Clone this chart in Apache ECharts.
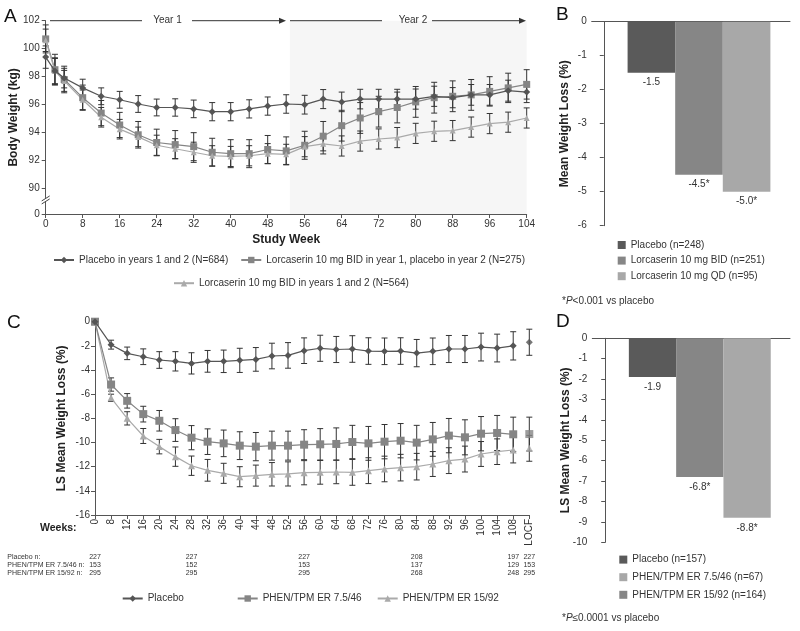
<!DOCTYPE html>
<html><head><meta charset="utf-8">
<script src="https://cdn.jsdelivr.net/npm/echarts@6/dist/echarts.min.js"></script>
<style>html,body{margin:0;padding:0;background:#fff}#c{width:800px;height:631px}</style>
</head><body><div id="c"></div>
<script>
// ---------- Panel A data ----------
const weeksA = [0,2,4,8,12,16,20,24,28,32,36,40,44,48,52,56,60,64,68,72,76,80,84,88,92,96,100,104];
const placeboA = [99.4,98.4,97.9,97.2,96.6,96.35,96.05,95.8,95.8,95.7,95.5,95.5,95.7,95.9,96.05,96.0,96.4,96.2,96.4,96.4,96.4,96.4,96.6,96.5,96.7,96.7,97.0,96.9];
const placeboAErr = [0.8,0.95,0.7,0.62,0.6,0.6,0.6,0.6,0.62,0.63,0.65,0.65,0.65,0.65,0.66,0.67,0.68,0.7,0.7,0.7,0.7,0.72,0.72,0.72,0.74,0.74,0.75,0.75];
const lorcY1A = [100.7,98.5,97.8,96.5,95.4,94.55,93.85,93.3,93.15,93.0,92.6,92.5,92.5,92.8,92.7,93.1,93.75,94.5,95.05,95.5,95.8,96.2,96.5,96.6,96.7,96.95,97.2,97.45];
const lorcY1AErr = [1.0,1.1,0.95,0.9,0.9,0.9,0.95,0.95,1.0,1.0,1.0,1.0,1.0,1.0,1.0,1.0,1.05,1.1,1.1,1.1,1.1,1.1,1.1,1.1,1.1,1.05,1.05,1.05];
const lorcBothA = [100.6,98.4,97.7,96.35,95.1,94.25,93.7,93.1,92.85,92.6,92.35,92.3,92.35,92.5,92.45,93.0,93.2,93.05,93.4,93.55,93.65,93.95,94.1,94.15,94.4,94.65,94.75,95.05];
const lorcBothAErr = [0.8,0.9,0.75,0.7,0.7,0.7,0.7,0.72,0.72,0.72,0.72,0.72,0.72,0.72,0.72,0.72,0.72,0.72,0.72,0.72,0.72,0.72,0.72,0.72,0.72,0.72,0.72,0.72];
const namesA = ['Placebo in years 1 and 2 (N=684)','Lorcaserin 10 mg BID in year 1, placebo in year 2 (N=275)','Lorcaserin 10 mg BID in years 1 and 2 (N=564)'];
const yBreakA = 88.19;
const yTickValsA = [yBreakA,90,92,94,96,98,100,102];
const yTickLabelsA = ['0','90','92','94','96','98','100','102'];
const year2StartA = 52.8;

// ---------- Panel B data ----------
const catsB = ['Placebo (n=248)','Lorcaserin 10 mg BID (n=251)','Lorcaserin 10 mg QD (n=95)'];
const valsB = [-1.5,-4.5,-5.0];
const labelsB = ['-1.5','-4.5*','-5.0*'];

// ---------- Panel C data ----------
const weeksC = ['0','8','12','16','20','24','28','32','36','40','44','48','52','56','60','64','68','72','76','80','84','88','92','96','100','104','108','LOCF'];
const placeboC = [0,-1.9,-2.62,-2.9,-3.17,-3.28,-3.45,-3.28,-3.28,-3.2,-3.12,-2.84,-2.79,-2.4,-2.2,-2.3,-2.26,-2.43,-2.45,-2.43,-2.6,-2.45,-2.26,-2.26,-2.1,-2.18,-2.0,-1.7];
const placeboCErr = [0,0.37,0.52,0.65,0.69,0.8,0.88,0.9,0.93,1.0,0.98,1.06,1.06,1.06,1.08,1.08,1.1,1.1,1.1,1.1,1.13,1.1,1.12,1.12,1.15,1.15,1.17,1.08];
const phen75C = [0,-5.2,-6.55,-7.65,-8.2,-8.97,-9.6,-9.93,-10.07,-10.26,-10.34,-10.26,-10.26,-10.18,-10.15,-10.12,-9.96,-10.07,-9.93,-9.85,-10.01,-9.74,-9.43,-9.57,-9.27,-9.21,-9.32,-9.3];
const phen75CErr = [0,0.55,0.6,0.65,0.85,0.94,1.0,1.06,1.1,1.15,1.17,1.2,1.2,1.24,1.3,1.33,1.38,1.4,1.42,1.42,1.43,1.4,1.42,1.45,1.42,1.45,1.42,1.4];
const phen15C = [0,-6.3,-8.0,-9.46,-10.34,-11.17,-11.92,-12.3,-12.55,-12.83,-12.74,-12.63,-12.6,-12.5,-12.47,-12.44,-12.47,-12.33,-12.19,-12.08,-12.0,-11.78,-11.5,-11.37,-10.95,-10.76,-10.62,-10.48];
const phen15CErr = [0,0.3,0.55,0.62,0.6,0.8,0.8,0.9,0.83,0.83,0.87,0.97,1.0,1.0,0.98,0.97,1.07,1.07,1.06,1.1,1.1,1.03,1.07,1.07,1.03,1.06,1.07,1.07];
const namesC = ['Placebo','PHEN/TPM ER 7.5/46','PHEN/TPM ER 15/92'];
const nWeeksC = ['0','28','56','84','108','LOCF'];
const nPlaceboC = [227,227,227,208,197,227];
const nPhen75C = [153,152,153,137,129,153];
const nPhen15C = [295,295,295,268,248,295];
const nRowLabelsC = ['Placebo n:','PHEN/TPM ER 7.5/46 n:','PHEN/TPM ER 15/92 n:'];

// ---------- Panel D data ----------
const catsD = ['Placebo (n=157)','PHEN/TPM ER 7.5/46 (n=67)','PHEN/TPM ER 15/92 (n=164)'];
const valsD = [-1.9,-6.8,-8.8];
const labelsD = ['-1.9','-6.8*','-8.8*'];

// ---------- styles ----------
const FONT = '"Liberation Sans", Arial, Helvetica, sans-serif';
const TXT = '#333';
const AXC = '#555';
const ERRC = '#333';
const cDark = '#555555', cMid = '#858585', cLight = '#aaaaaa';
const barDark = '#5a5a5a', barMid = '#868686', barLight = '#a8a8a8';

const chart = echarts.init(document.getElementById('c'));

function errRender(params, api) {
  const x = api.value(0), y = api.value(1), e = api.value(2);
  if (!e) return null;
  const lo = api.coord([x, y - e]), hi = api.coord([x, y + e]);
  const w = 3, st = {stroke: ERRC, lineWidth: 1};
  return {type: 'group', children: [
    {type: 'line', shape: {x1: lo[0], y1: lo[1], x2: hi[0], y2: hi[1]}, style: st},
    {type: 'line', shape: {x1: lo[0]-w, y1: lo[1], x2: lo[0]+w, y2: lo[1]}, style: st},
    {type: 'line', shape: {x1: hi[0]-w, y1: hi[1], x2: hi[0]+w, y2: hi[1]}, style: st}
  ]};
}
function errSeries(xi, yi, xs, ys, es) {
  return {type: 'custom', xAxisIndex: xi, yAxisIndex: yi, silent: true, z: 2,
    data: xs.map((x, i) => [x, ys[i], es[i]]), renderItem: errRender};
}
function lineSeries(name, xi, yi, data, color, symbol, size, extra) {
  return Object.assign({type: 'line', name, xAxisIndex: xi, yAxisIndex: yi, data,
    symbol, symbolSize: size, lineStyle: {color, width: 1.2}, itemStyle: {color},
    z: 3, silent: true}, extra || {});
}
const axisLineSt = {show: true, lineStyle: {color: AXC, width: 1}};
const tickSt = {show: true, length: 4, lineStyle: {color: AXC}};
const lblSt = {color: TXT, fontFamily: FONT, fontSize: 10};
const nameSt = {color: '#222', fontFamily: FONT, fontSize: 12, fontWeight: 'bold'};

const series = [];
// Panel A
series.push(errSeries(0, 0, weeksA, placeboA, placeboAErr));
series.push(errSeries(0, 0, weeksA, lorcY1A, lorcY1AErr));
series.push(errSeries(0, 0, weeksA, lorcBothA, lorcBothAErr));
series.push(lineSeries(namesA[0], 0, 0, weeksA.map((w,i)=>[w, placeboA[i]]), cDark, 'diamond', 7, {
  markArea: {silent: true, itemStyle: {color: '#f6f6f6'}, data: [[{xAxis: year2StartA}, {xAxis: weeksA[weeksA.length-1]}]]}, z: 4}));
series.push(lineSeries(namesA[1], 0, 0, weeksA.map((w,i)=>[w, lorcY1A[i]]), cMid, 'rect', 7));
series.push(lineSeries(namesA[2], 0, 0, weeksA.map((w,i)=>[w, lorcBothA[i]]), cLight, 'triangle', 6));
// Panel B
const colB = [barDark, barMid, barLight];
catsB.forEach((name, i) => series.push({type: 'bar', name, xAxisIndex: 1, yAxisIndex: 1,
  data: [[i + 1, valsB[i]]], barWidth: 47.6, barGap: '-100%', itemStyle: {color: colB[i]}, silent: true,
  label: {show: true, position: 'bottom', distance: 5, formatter: labelsB[i], color: TXT, fontFamily: FONT, fontSize: 10}}));
// Panel C
const nLine = weeksC.length - 1;
const idxC = weeksC.map((w, i) => i);
series.push(errSeries(2, 2, idxC, placeboC, placeboCErr));
series.push(errSeries(2, 2, idxC, phen75C, phen75CErr));
series.push(errSeries(2, 2, idxC, phen15C, phen15CErr));
const cSpec = [[placeboC, cDark, 'diamond', 7], [phen75C, cMid, 'rect', 8], [phen15C, cLight, 'triangle', 7]];
cSpec.forEach((s, k) => {
  series.push(lineSeries(namesC[k], 2, 2, s[0].slice(0, nLine), s[1], s[2], s[3], {z: 4 - k * 0.1}));
  series.push({type: 'scatter', name: namesC[k] + ' LOCF', xAxisIndex: 2, yAxisIndex: 2, silent: true,
    data: [[nLine, s[0][nLine]]], symbol: s[2], symbolSize: s[3], itemStyle: {color: s[1]}, z: 4});
});
// Panel D
const colD = [barDark, barMid, barLight];
catsD.forEach((name, i) => series.push({type: 'bar', name, xAxisIndex: 6, yAxisIndex: 3,
  data: [[i + 1, valsD[i]]], barWidth: 47.3, barGap: '-100%', itemStyle: {color: colD[i]}, silent: true,
  label: {show: true, position: 'bottom', distance: 5, formatter: labelsD[i], color: TXT, fontFamily: FONT, fontSize: 10}}));

function nAxis(vals, offset) {
  return {gridIndex: 2, type: 'category', data: weeksC, boundaryGap: false, position: 'bottom', offset,
    axisLine: {show: false, onZero: false}, axisTick: {show: false}, splitLine: {show: false},
    axisLabel: {interval: 0, margin: 0, color: TXT, fontFamily: FONT, fontSize: 7, lineHeight: 8,
      formatter: (v) => { const k = nWeeksC.indexOf(v); return k >= 0 ? String(vals[k]) : ''; }}};
}

const legText = {color: TXT, fontFamily: FONT, fontSize: 10};
const legBase = {selectedMode: false, padding: 0, textStyle: legText, itemWidth: 20, itemHeight: 8};

const option = {
  animation: false,
  backgroundColor: '#fff',
  textStyle: {fontFamily: FONT},
  grid: [
    {left: 45.7, top: 20.7, width: 481, height: 193.3, outerBoundsMode: 'none', containLabel: false},
    {left: 591.7, top: 21.7, width: 198.3, height: 204, outerBoundsMode: 'none', containLabel: false},
    {left: 95, top: 321.7, width: 434.3, height: 193.3, outerBoundsMode: 'none', containLabel: false},
    {left: 592.3, top: 338.3, width: 197.7, height: 204, outerBoundsMode: 'none', containLabel: false}
  ],
  xAxis: [
    {gridIndex: 0, type: 'value', min: 0, max: 104, interval: 8, axisLine: Object.assign({onZero: false}, axisLineSt),
      axisTick: tickSt, splitLine: {show: false}, axisLabel: Object.assign({margin: 5}, lblSt),
      name: 'Study Week', nameLocation: 'middle', nameGap: 20, nameMoveOverlap: false, nameTextStyle: nameSt},
    {gridIndex: 1, type: 'value', min: -0.254, max: 3.912, position: 'top', axisLine: axisLineSt,
      axisTick: {show: false}, axisLabel: {show: false}, splitLine: {show: false}},
    {gridIndex: 2, type: 'category', data: weeksC, boundaryGap: false, axisLine: Object.assign({onZero: false}, axisLineSt),
      axisTick: Object.assign({interval: 0}, tickSt), splitLine: {show: false},
      axisLabel: Object.assign({interval: 0, rotate: 90, margin: 4}, lblSt)},
    nAxis(nPlaceboC, 38.5),
    nAxis(nPhen75C, 46.5),
    nAxis(nPhen15C, 54.5),
    {gridIndex: 3, type: 'value', min: -0.273, max: 3.907, position: 'top', axisLine: axisLineSt,
      axisTick: {show: false}, axisLabel: {show: false}, splitLine: {show: false}}
  ],
  yAxis: [
    {gridIndex: 0, type: 'value', min: yBreakA, max: 102, axisLine: axisLineSt,
      axisTick: Object.assign({customValues: yTickValsA}, tickSt), splitLine: {show: false},
      axisLabel: Object.assign({customValues: yTickValsA, margin: 6,
        formatter: (v) => { const k = yTickValsA.findIndex(t => Math.abs(t - v) < 1e-6); return k >= 0 ? yTickLabelsA[k] : ''; }}, lblSt),
      name: 'Body Weight (kg)', nameLocation: 'middle', nameGap: 26, nameMoveOverlap: false, nameTextStyle: nameSt},
    {gridIndex: 1, type: 'value', min: -6, max: 0, interval: 1, axisLine: axisLineSt, axisTick: tickSt,
      splitLine: {show: false}, axisLabel: Object.assign({margin: 5}, lblSt),
      name: 'Mean Weight Loss (%)', nameLocation: 'middle', nameGap: 21, nameMoveOverlap: false, nameTextStyle: nameSt},
    {gridIndex: 2, type: 'value', min: -16, max: 0, interval: 2, axisLine: axisLineSt, axisTick: tickSt,
      splitLine: {show: false}, axisLabel: Object.assign({margin: 5}, lblSt),
      name: 'LS Mean Weight Loss (%)', nameLocation: 'middle', nameGap: 27, nameMoveOverlap: false, nameTextStyle: nameSt},
    {gridIndex: 3, type: 'value', min: -10, max: 0, interval: 1, axisLine: axisLineSt, axisTick: tickSt,
      splitLine: {show: false}, axisLabel: Object.assign({margin: 5}, lblSt),
      name: 'LS Mean Weight Loss (%)', nameLocation: 'middle', nameGap: 21, nameMoveOverlap: false, nameTextStyle: nameSt}
  ],
  legend: [
    Object.assign({}, legBase, {data: [namesA[0], namesA[1]], left: 53, top: 255, itemGap: 12}),
    Object.assign({}, legBase, {data: [namesA[2]], left: 173, top: 278.2}),
    Object.assign({}, legBase, {data: catsB, left: 617.7, top: 240, orient: 'vertical', icon: 'rect', itemWidth: 8, itemHeight: 8, itemGap: 5.6}),
    Object.assign({}, legBase, {data: [namesC[0]], left: 121.7, top: 593.5}),
    Object.assign({}, legBase, {data: [namesC[1]], left: 236.7, top: 593.5}),
    Object.assign({}, legBase, {data: [namesC[2]], left: 376.7, top: 593.5}),
    Object.assign({}, legBase, {data: [
        {name: catsD[0], itemStyle: {color: barDark}},
        {name: catsD[1], itemStyle: {color: barLight}},
        {name: catsD[2], itemStyle: {color: barMid}}],
      left: 619.3, top: 554.6, orient: 'vertical', icon: 'rect', itemWidth: 8, itemHeight: 8, itemGap: 7.6})
  ],
  series
};
chart.setOption(option);

// ---------- annotations (decoration) ----------
const g = [];
function txt(text, x, y, opts) {
  g.push({type: 'text', x, y, silent: true, z: 100, style: Object.assign({text, fill: TXT, font: '10px ' + FONT, align: 'left', verticalAlign: 'middle'}, opts || {})});
}
function ln(x1, y1, x2, y2, color) {
  g.push({type: 'line', silent: true, z: 100, shape: {x1, y1, x2, y2}, style: {stroke: color || '#333', lineWidth: 1}});
}
function arrow(x, y) {
  g.push({type: 'polygon', silent: true, z: 100, shape: {points: [[x - 7, y - 3], [x, y], [x - 7, y + 3]]}, style: {fill: '#333'}});
}
// panel letters
txt('A', 4, 17, {font: '19px ' + FONT, fill: '#111'});
txt('B', 556, 15, {font: '19px ' + FONT, fill: '#111'});
txt('C', 7, 323, {font: '19px ' + FONT, fill: '#111'});
txt('D', 556, 322, {font: '19px ' + FONT, fill: '#111'});
// Year annotations
const yy = 20.7;
ln(50, yy, 142, yy); txt('Year 1', 167.5, yy, {align: 'center'}); ln(192, yy, 282, yy); arrow(286, yy);
ln(290, yy, 382, yy); txt('Year 2', 413, yy, {align: 'center'}); ln(432, yy, 522, yy); arrow(526, yy);
// axis break on panel A y-axis
const pb = chart.convertToPixel({yAxisIndex: 0}, (yBreakA + 90) / 2 + 0.1);
const px = chart.convertToPixel({xAxisIndex: 0}, 0);
g.push({type: 'rect', silent: true, z: 99, shape: {x: px - 3, y: pb - 2, width: 6, height: 4}, style: {fill: '#fff'}});
ln(px - 4, pb + 1, px + 4, pb - 4, '#444');
ln(px - 4, pb + 4, px + 4, pb - 1, '#444');
// Weeks label & n row labels
txt('Weeks:', 40, 528.5, {font: 'bold 10.5px ' + FONT, fill: '#222'});
const rowY = [557.5, 565.5, 573.5];
nRowLabelsC.forEach((t, i) => txt(t, 7.3, rowY[i], {font: '7px ' + FONT}));
// footnotes
g.push({type: 'text', x: 562, y: 301.7, silent: true, z: 100, style: {text: '*{i|P}<0.001 vs placebo', fill: TXT, font: '10px ' + FONT, verticalAlign: 'middle',
  rich: {i: {fontStyle: 'italic', fontFamily: FONT, fontSize: 10, fill: TXT}}}});
g.push({type: 'text', x: 562, y: 618.3, silent: true, z: 100, style: {text: '*{i|P}≤0.0001 vs placebo', fill: TXT, font: '10px ' + FONT, verticalAlign: 'middle',
  rich: {i: {fontStyle: 'italic', fontFamily: FONT, fontSize: 10, fill: TXT}}}});
chart.setOption({graphic: g});
</script>
</body></html>
